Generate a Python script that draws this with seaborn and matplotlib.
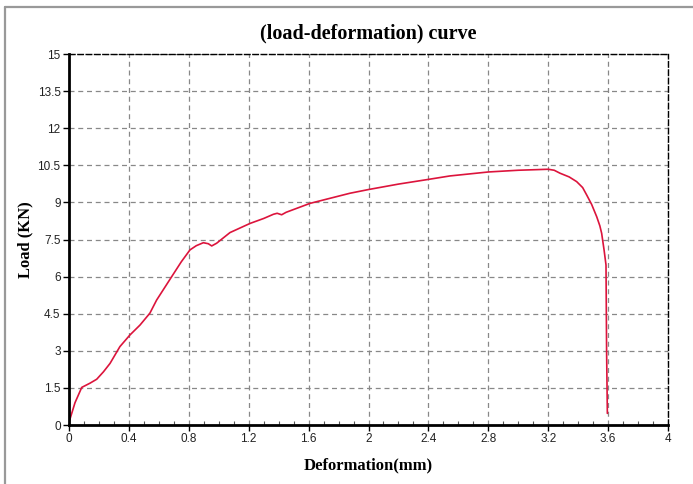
import numpy as np
import pandas as pd
import matplotlib
matplotlib.use("Agg")
import matplotlib.pyplot as plt
from matplotlib.lines import Line2D
from matplotlib.ticker import MultipleLocator
import seaborn as sns

deformation = [0.0, 0.007, 0.04, 0.085, 0.14, 0.185, 0.23, 0.274, 0.34, 0.407, 0.474, 0.54,
               0.585, 0.686, 0.75, 0.808, 0.85, 0.897, 0.93, 0.953, 0.986, 1.075, 1.209,
               1.3, 1.365, 1.39, 1.42, 1.45, 1.609, 1.876, 2.0, 2.2, 2.4, 2.544, 2.8, 3.0,
               3.2, 3.24, 3.279, 3.34, 3.39, 3.43, 3.457, 3.49, 3.524, 3.545, 3.557,
               3.573, 3.586, 3.59, 3.595]
load = [0.1, 0.25, 0.9, 1.52, 1.69, 1.85, 2.15, 2.49, 3.17, 3.64, 4.04, 4.52,
        5.05, 6.0, 6.6, 7.08, 7.25, 7.37, 7.33, 7.24, 7.35, 7.78, 8.15,
        8.35, 8.52, 8.56, 8.5, 8.6, 8.96, 9.37, 9.52, 9.74, 9.93, 10.07, 10.23, 10.3,
        10.34, 10.3, 10.18, 10.03, 9.84, 9.6, 9.30, 8.92, 8.42, 8.05, 7.75,
        7.08, 6.47, 3.0, 0.47]

df = pd.DataFrame({"Deformation": deformation, "Load": load})

sns.set_theme(style="white")
plt.rcParams['font.family'] = ['Liberation Sans', 'DejaVu Sans']

fig = plt.figure(figsize=(6.93, 4.84), dpi=100)
ax = fig.add_axes([69/693, 59/484, 599/693, 371/484])

sns.lineplot(data=df, x="Deformation", y="Load", ax=ax, color="#dc143c",
             linewidth=1.2, sort=False, estimator=None)

ax.set_xlim(0, 4)
ax.set_ylim(0, 15)
ax.set_xticks([0, 0.4, 0.8, 1.2, 1.6, 2, 2.4, 2.8, 3.2, 3.6, 4])
ax.set_xticklabels(["0", "0.4", "0.8", "1.2", "1.6", "2", "2.4", "2.8", "3.2", "3.6", "4"])
ax.set_yticks([0, 1.5, 3, 4.5, 6, 7.5, 9, 10.5, 12, 13.5, 15])
ax.set_yticklabels(["0", "1.5", "3", "4.5", "6", "7.5", "9", "10.5", "12", "13.5", "15"])
ax.xaxis.set_minor_locator(MultipleLocator(0.1))

ax.grid(True, which="major", linestyle=(0, (4, 3)), color="#888888", linewidth=0.9)
ax.tick_params(axis="both", which="major", labelsize=8.5, labelcolor="#222222",
               direction="out", length=4, width=1, color="black", pad=2,
               bottom=True, left=True)
ax.tick_params(axis="x", which="minor", direction="in", length=3, width=0.8,
               color="#555555", bottom=True)

for s in ["left", "bottom"]:
    ax.spines[s].set_color("black")
    ax.spines[s].set_linewidth(2)
for s in ["top", "right"]:
    ax.spines[s].set_color("black")
    ax.spines[s].set_linewidth(1)
    ax.spines[s].set_linestyle((0, (4, 2)))

ax.set_title("(load-deformation) curve", family=["Liberation Serif"], fontweight="bold",
             fontsize=14.5, color="black", pad=11)
ax.set_xlabel("Deformation(mm)", family=["Liberation Serif"], fontweight="bold",
              fontsize=12, color="black", labelpad=9)
ax.set_ylabel("Load (KN)", family=["Liberation Serif"], fontweight="bold",
              fontsize=12, color="black", labelpad=3)

fig.add_artist(Line2D([5/693, 5/693], [0, 1 - 7/484], transform=fig.transFigure,
                      color="#999999", linewidth=1.6))
fig.add_artist(Line2D([5/693, 1], [1 - 7/484, 1 - 7/484], transform=fig.transFigure,
                      color="#999999", linewidth=1.6))

fig.savefig("out.png", dpi=100)
